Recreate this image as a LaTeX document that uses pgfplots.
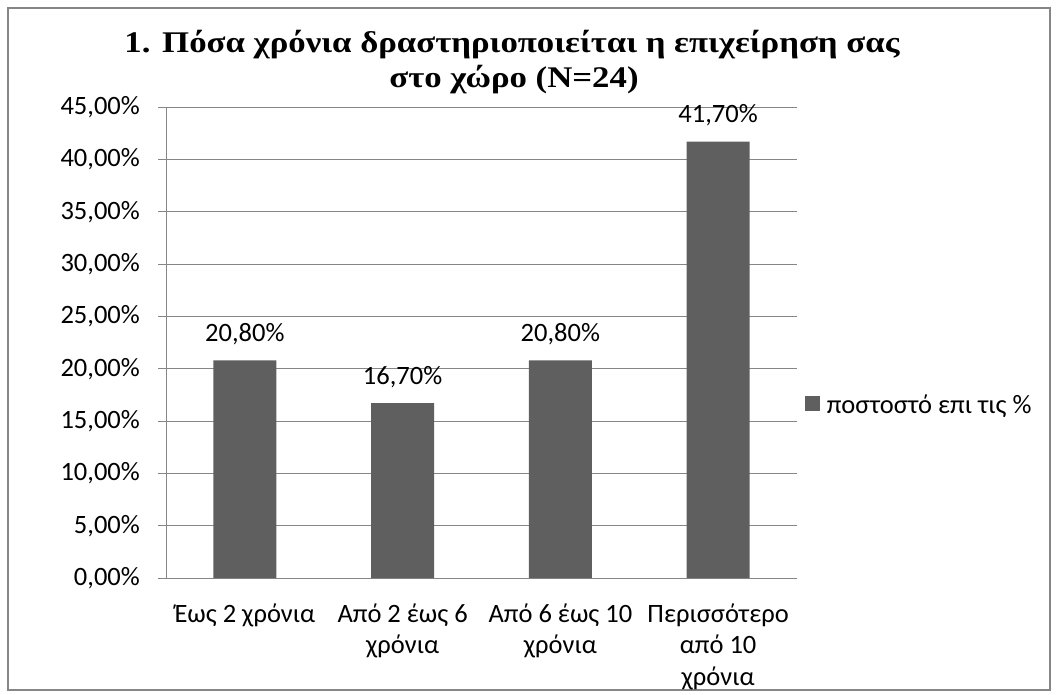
\documentclass[border=0pt]{standalone}
\usepackage{fontspec}
\setmainfont{Carlito}
\newfontfamily\titlefont{Liberation Serif}
\usepackage{graphicx}
\usepackage{pgfplots}
\pgfplotsset{compat=1.18}
\definecolor{barc}{HTML}{5F5F5F}
\definecolor{gridc}{HTML}{868686}
\newcommand{\lf}{\fontsize{26.5}{31.5}\selectfont}
\newcommand{\st}[1]{{\lf #1}}
\newcommand{\xl}[1]{{\lf\begin{tabular}{@{}c@{}}#1\end{tabular}}}
\newcommand{\tl}[1]{\scalebox{1.16}[1.0]{\titlefont\bfseries\fontsize{30}{35}\selectfont #1}}
\begin{document}
\begin{tikzpicture}[x=1pt,y=1pt]
\path (0,0) rectangle (1056,693);
\draw[gridc, line width=2pt] (8,3) rectangle (1050,685);
\node[anchor=base, inner sep=0pt] at (512,640) {\tl{1. Πόσα χρόνια δραστηριοποιείται η επιχείρηση σας}};
\node[anchor=base, inner sep=0pt] at (514,605) {\tl{στο χώρο (N=24)}};
\begin{axis}[
  at={(166pt,115pt)}, anchor=south west,
  scale only axis, width=631pt, height=471pt,
  ybar, bar width=63pt,
  xmin=-0.5, xmax=3.5, ymin=0, ymax=45,
  ytick={0,5,...,45},
  xtick={0,1,2,3},
  xticklabels={\xl{Έως 2 χρόνια}, \xl{Από 2 έως 6\\χρόνια}, \xl{Από 6 έως 10\\χρόνια}, \xl{Περισσότερο\\από 10\\χρόνια}},
  x tick label style={anchor=north, inner sep=0pt, yshift=-14pt},
  extra x ticks={-0.5,0.5,1.5,2.5,3.5},
  extra x tick labels={},
  extra x tick style={major tick length=8pt, tick style={gridc, line width=1pt}, tick align=outside, grid=none},
  major x tick style={draw=none},
  yticklabel={\st{\pgfmathprintnumber[assume math mode=true,fixed,fixed zerofill,precision=2,use comma]{\tick}\%}},
  y tick label style={anchor=east, inner sep=0pt, xshift=-18pt},
  ytick style={gridc, line width=1pt},
  major tick length=8pt, tick align=outside,
  ymajorgrids, grid style={gridc, line width=1pt},
  axis x line*=bottom, axis y line*=left,
  axis line style={gridc, line width=1pt},
  nodes near coords={\st{\pgfmathprintnumber[assume math mode=true,fixed,fixed zerofill,precision=2,use comma]{\pgfplotspointmeta}\%}},
  every node near coord/.append style={anchor=base, inner sep=0pt, yshift=19pt},
  legend style={at={(1.012,0.367)}, anchor=west, draw=none, fill=none, inner sep=0pt,
    /tikz/every odd column/.append style={column sep=5pt}},
  legend image code/.code={\fill[barc] (0pt,-6pt) rectangle (15pt,9pt);},
]
\addplot[fill=barc, draw=none] coordinates {(0,20.8) (1,16.7) (2,20.8) (3,41.7)};
\addlegendentry{\st{ποστοστό επι τις \%}}
\end{axis}
\end{tikzpicture}
\end{document}
